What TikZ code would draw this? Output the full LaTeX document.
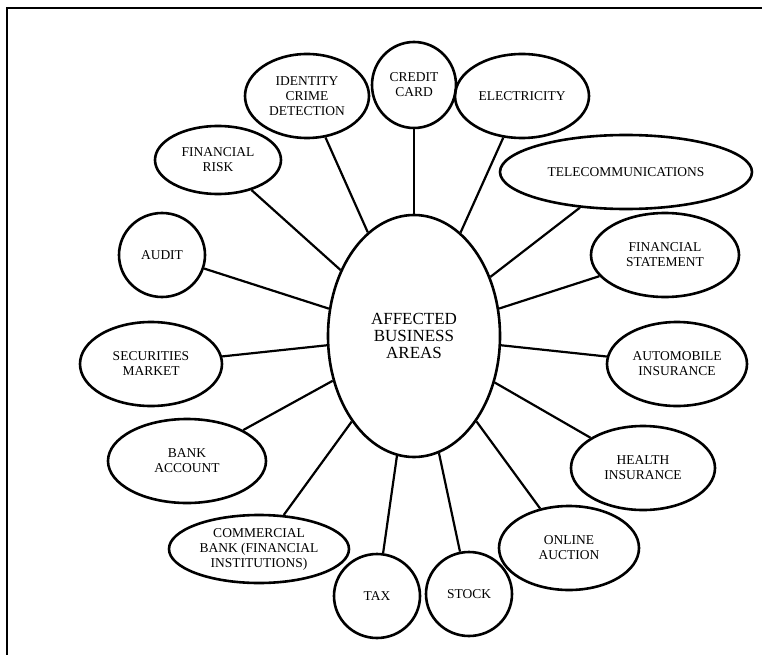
\documentclass[tikz,border=0pt]{standalone}
\usepackage{fontspec}
\setmainfont{Liberation Serif}
\usepackage{tikz}
\usetikzlibrary{shapes.geometric}

\begin{document}
\begin{tikzpicture}[x=1pt,y=-1pt,
  area/.style={ellipse,draw,line width=2.6pt,inner sep=0pt,align=center,
    font=\fontsize{13.5}{15}\selectfont},
  link/.style={line width=2.2pt}]
\useasboundingbox (0,0) rectangle (762,655);
\draw[line width=2pt] (7,655) -- (7,8) -- (762,8);

\node[area,minimum width=172pt,minimum height=242pt,
  font=\fontsize{17}{17}\selectfont] (aba) at (414,336){AFFECTED\\BUSINESS\\AREAS};

\node[area,minimum width=124pt,minimum height=84pt] (idc) at (307,96){IDENTITY\\CRIME\\DETECTION};
\node[area,minimum width=84pt,minimum height=86pt] (cc) at (414,85){CREDIT\\CARD};
\node[area,minimum width=134pt,minimum height=84pt] (el) at (522,96){ELECTRICITY};
\node[area,minimum width=126pt,minimum height=68pt] (fr) at (218,160){FINANCIAL\\RISK};
\node[area,minimum width=252pt,minimum height=74pt] (tel) at (626,172){TELECOMMUNICATIONS};
\node[area,minimum width=86pt,minimum height=84pt] (aud) at (162,255){AUDIT};
\node[area,minimum width=148pt,minimum height=84pt] (fs) at (665,255){FINANCIAL\\STATEMENT};
\node[area,minimum width=142pt,minimum height=84pt] (sec) at (151,364){SECURITIES\\MARKET};
\node[area,minimum width=140pt,minimum height=84pt] (auto) at (677,364){AUTOMOBILE\\INSURANCE};
\node[area,minimum width=158pt,minimum height=84pt] (bank) at (187,461){BANK\\ACCOUNT};
\node[area,minimum width=144pt,minimum height=84pt] (health) at (643,468){HEALTH\\INSURANCE};
\node[area,minimum width=180pt,minimum height=68pt] (comm) at (259,549){COMMERCIAL\\BANK (FINANCIAL\\INSTITUTIONS)};
\node[area,minimum width=140pt,minimum height=84pt] (online) at (569,548){ONLINE\\AUCTION};
\node[area,minimum width=86pt,minimum height=84pt] (tax) at (377,596){TAX};
\node[area,minimum width=86pt,minimum height=84pt] (stock) at (469,594){STOCK};

\foreach \to in {idc,cc,el,fr,tel,aud,fs,sec,auto,bank,health,comm,online,tax,stock}
  \draw[link] (aba) -- (\to);
\end{tikzpicture}
\end{document}
